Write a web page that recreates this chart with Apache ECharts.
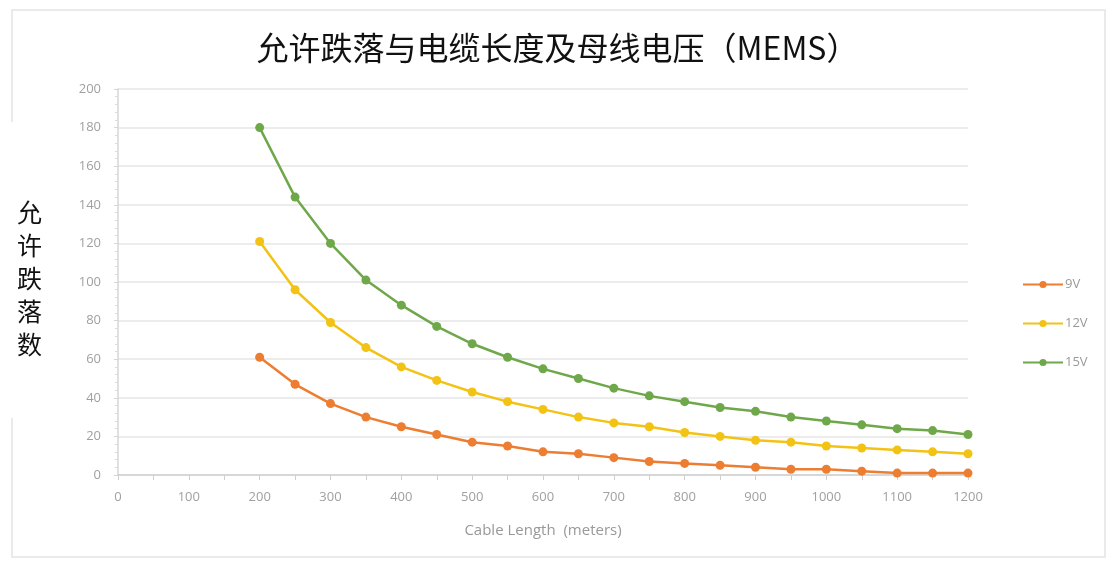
<!DOCTYPE html>
<html>
<head>
<meta charset="utf-8">
<script src="https://cdn.jsdelivr.net/npm/echarts@6/dist/echarts.min.js"></script>
<style>
  html, body { margin: 0; padding: 0; background: #fff; }
  #chart { width: 1115px; height: 567px; }
</style>
</head>
<body>
<div id="chart"></div>
<script>
// Cable length in meters
const lengths = [200, 250, 300, 350, 400, 450, 500, 550, 600, 650, 700, 750, 800, 850, 900, 950, 1000, 1050, 1100, 1150, 1200];
// Allowed drop count per bus voltage
const v9  = [61, 47, 37, 30, 25, 21, 17, 15, 12, 11, 9, 7, 6, 5, 4, 3, 3, 2, 1, 1, 1];
const v12 = [121, 96, 79, 66, 56, 49, 43, 38, 34, 30, 27, 25, 22, 20, 18, 17, 15, 14, 13, 12, 11];
const v15 = [180, 144, 120, 101, 88, 77, 68, 61, 55, 50, 45, 41, 38, 35, 33, 30, 28, 26, 24, 23, 21];
const seriesNames = ['9V', '12V', '15V'];
const seriesColors = ['#ED7D31', '#F2C314', '#6FA84A'];

const pair = vals => lengths.map((x, i) => [x, vals[i]]);
const allValues = [v9, v12, v15];

const chart = echarts.init(document.getElementById('chart'));
chart.setOption({
  animation: false,
  backgroundColor: '#fff',
  title: {
    text: '允许跌落与电缆长度及母线电压（MEMS）',
    left: 'center',
    top: 27,
    textStyle: { fontFamily: 'Noto Sans CJK SC', fontSize: 32, fontWeight: 'normal', color: '#111' }
  },
  graphic: [
    { type: 'rect', shape: { x: 12, y: 10, width: 1093, height: 547 }, style: { fill: 'none', stroke: '#e4e4e4', lineWidth: 1.5 }, z: -1 },
    { type: 'rect', shape: { x: 4, y: 122, width: 60, height: 296 }, style: { fill: '#fff' }, z: 0 },
    {
      type: 'text', left: 17, top: 196,
      style: { text: '允\n许\n跌\n落\n数', fontFamily: 'Noto Sans CJK SC', fontSize: 25, lineHeight: 33, fill: '#111' },
      z: 1
    }
  ],
  legend: {
    orient: 'vertical',
    left: 1017,
    top: 273,
    itemGap: 26,
    itemWidth: 40,
    itemHeight: 9,
    data: seriesNames,
    textStyle: { color: '#999', fontSize: 13, fontFamily: 'Open Sans', padding: [0, 0, 0, -3] }
  },
  grid: { left: 118, right: 147, top: 89, bottom: 92 },
  xAxis: {
    type: 'value', min: 0, max: 1200, interval: 100,
    name: 'Cable Length  (meters)', nameLocation: 'middle', nameGap: 48,
    nameTextStyle: { color: '#999', fontSize: 15, fontFamily: 'Open Sans' },
    axisLine: { lineStyle: { color: '#cfcfcf', width: 1.5 } },
    axisTick: { show: true, length: 5, lineStyle: { color: '#cfcfcf' } },
    minorTick: { show: true, splitNumber: 2, length: 5, lineStyle: { color: '#cfcfcf' } },
    splitLine: { show: false },
    axisLabel: { color: '#a0a0a0', fontSize: 13, fontFamily: 'Open Sans', margin: 16, formatter: v => String(v) }
  },
  yAxis: {
    type: 'value', min: 0, max: 200, interval: 20,
    axisLine: { show: true, lineStyle: { color: '#d6d6d6', width: 1.5 } },
    axisTick: { show: true, length: 4, lineStyle: { color: '#d6d6d6' } },
    minorTick: { show: true, splitNumber: 5, length: 3, lineStyle: { color: '#dcdcdc' } },
    splitLine: { lineStyle: { color: '#e6e6e6', width: 1.5 } },
    axisLabel: { color: '#a0a0a0', fontSize: 13, fontFamily: 'Open Sans', margin: 17 }
  },
  series: seriesNames.map((name, i) => ({
    name,
    type: 'line',
    data: pair(allValues[i]),
    symbol: 'circle',
    symbolSize: 9,
    smooth: false,
    lineStyle: { color: seriesColors[i], width: 2.5 },
    itemStyle: { color: seriesColors[i] }
  }))
});
</script>
</body>
</html>
